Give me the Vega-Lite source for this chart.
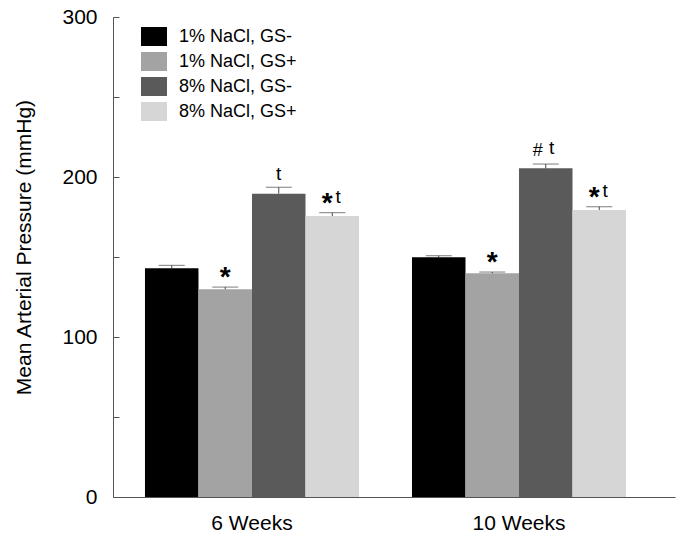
{
  "$schema": "https://vega.github.io/schema/vega-lite/v6.json",
  "width": 562,
  "height": 480,
  "autosize": "none",
  "padding": {"left": 113, "top": 17, "right": 4, "bottom": 39},
  "background": "white",
  "config": {
    "view": {"stroke": null},
    "font": "Liberation Sans",
    "axis": {"grid": false, "domainColor": "#555555", "tickColor": "#555555", "labelColor": "#000000", "titleColor": "#000000", "labelFont": "Liberation Sans", "titleFont": "Liberation Sans", "titleFontWeight": "normal"}
  },
  "data": {
    "values": [
      {"week": "6 Weeks", "group": "1% NaCl, GS-", "value": 142.9, "upper": 144.8, "sym": "", "t": ""},
      {"week": "6 Weeks", "group": "1% NaCl, GS+", "value": 129.8, "upper": 131.2, "sym": "*", "t": ""},
      {"week": "6 Weeks", "group": "8% NaCl, GS-", "value": 189.6, "upper": 193.6, "sym": "", "t": "t"},
      {"week": "6 Weeks", "group": "8% NaCl, GS+", "value": 175.6, "upper": 177.7, "sym": "*", "t": "t"},
      {"week": "10 Weeks", "group": "1% NaCl, GS-", "value": 149.8, "upper": 150.8, "sym": "", "t": ""},
      {"week": "10 Weeks", "group": "1% NaCl, GS+", "value": 139.8, "upper": 140.6, "sym": "*", "t": ""},
      {"week": "10 Weeks", "group": "8% NaCl, GS-", "value": 205.4, "upper": 208.1, "sym": "#", "t": "t"},
      {"week": "10 Weeks", "group": "8% NaCl, GS+", "value": 179.4, "upper": 181.4, "sym": "*", "t": "t"}
    ]
  },
  "encoding": {
    "x": {
      "field": "week", "type": "nominal", "sort": ["6 Weeks", "10 Weeks"],
      "scale": {"paddingInner": 0, "paddingOuter": 0.0524, "align": 0.196},
      "axis": {"title": null, "ticks": false, "labelAngle": 0, "labelFontSize": 21, "labelPadding": 15, "domainWidth": 1}
    },
    "xOffset": {
      "field": "group", "type": "nominal",
      "sort": ["1% NaCl, GS-", "1% NaCl, GS+", "8% NaCl, GS-", "8% NaCl, GS+"],
      "scale": {"paddingInner": 0, "paddingOuter": 0.495}
    }
  },
  "layer": [
    {
      "mark": {"type": "bar", "stroke": null},
      "encoding": {
        "y": {
          "field": "value", "type": "quantitative",
          "scale": {"domain": [0, 300], "nice": false},
          "axis": {
            "title": "Mean Arterial Pressure (mmHg)",
            "titleFontSize": 21, "titleAngle": -90, "titleX": -83, "titleY": 230, "titleBaseline": "alphabetic", "titleAlign": "center",
            "values": [0, 25, 50, 75, 100, 125, 150, 175, 200, 225, 250, 275, 300],
            "labelExpr": "datum.value % 100 == 0 ? datum.label : ''",
            "labelFontSize": 21, "labelPadding": 22, "tickSize": -6, "tickWidth": 1, "labelFlush": false, "labelOverlap": false
          }
        },
        "color": {
          "field": "group", "type": "nominal",
          "sort": ["1% NaCl, GS-", "1% NaCl, GS+", "8% NaCl, GS-", "8% NaCl, GS+"],
          "scale": {"range": ["#000000", "#a3a3a3", "#5a5a5a", "#d6d6d6"]},
          "legend": {
            "title": null, "orient": "none", "legendX": 28, "legendY": 6.5, "padding": 0,
            "symbolType": "M-1,-0.73H1V0.73H-1Z", "symbolSize": 676, "symbolStrokeWidth": 0,
            "labelFontSize": 18, "labelColor": "#000000", "labelOffset": 12, "rowPadding": 2,
            "labelFont": "Liberation Sans"
          }
        }
      }
    },
    {
      "mark": {"type": "rule", "color": "#444444", "strokeWidth": 1},
      "encoding": {"y": {"field": "value", "type": "quantitative"}, "y2": {"field": "upper"}}
    },
    {
      "mark": {"type": "tick", "color": "#444444", "size": 26, "thickness": 1},
      "encoding": {"y": {"field": "upper", "type": "quantitative"}}
    },
    {
      "transform": [{"filter": "datum.sym == '*' && datum.t == ''"}],
      "mark": {"type": "text", "fontSize": 28, "fontWeight": "bold", "baseline": "alphabetic", "align": "center", "dy": -1, "color": "#000000"},
      "encoding": {"y": {"field": "upper", "type": "quantitative"}, "text": {"field": "sym"}}
    },
    {
      "transform": [{"filter": "datum.sym == '*' && datum.t == 't'"}],
      "mark": {"type": "text", "fontSize": 28, "fontWeight": "bold", "baseline": "alphabetic", "align": "center", "dy": -1, "dx": -5, "color": "#000000"},
      "encoding": {"y": {"field": "upper", "type": "quantitative"}, "text": {"field": "sym"}}
    },
    {
      "transform": [{"filter": "datum.sym == '#'"}],
      "mark": {"type": "text", "fontSize": 18, "baseline": "alphabetic", "align": "center", "dy": -8, "dx": -8, "color": "#000000"},
      "encoding": {"y": {"field": "upper", "type": "quantitative"}, "text": {"field": "sym"}}
    },
    {
      "transform": [{"filter": "datum.sym == '' && datum.t == 't'"}],
      "mark": {"type": "text", "fontSize": 19, "baseline": "alphabetic", "align": "center", "dy": -7, "color": "#000000"},
      "encoding": {"y": {"field": "upper", "type": "quantitative"}, "text": {"field": "t"}}
    },
    {
      "transform": [{"filter": "datum.sym != '' && datum.t == 't'"}],
      "mark": {"type": "text", "fontSize": 19, "baseline": "alphabetic", "align": "center", "dy": -10, "dx": 6, "color": "#000000"},
      "encoding": {"y": {"field": "upper", "type": "quantitative"}, "text": {"field": "t"}}
    }
  ]
}
